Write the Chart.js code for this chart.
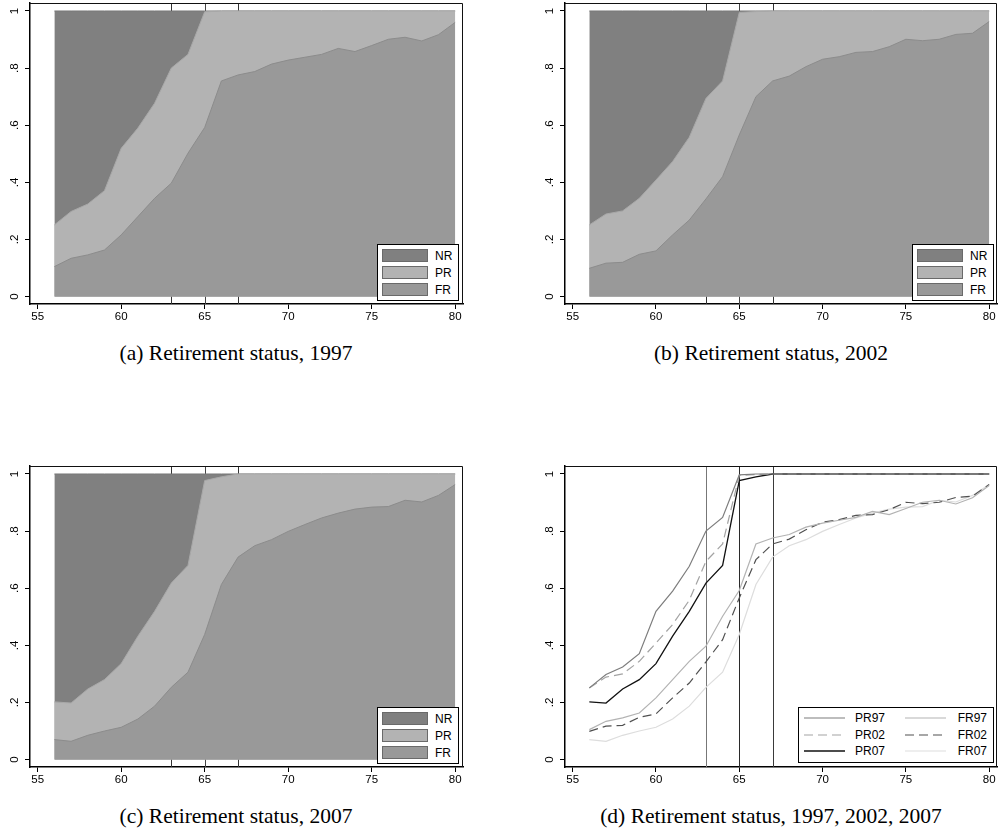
<!DOCTYPE html>
<html>
<head>
<meta charset="utf-8">
<script src="https://cdn.jsdelivr.net/npm/chart.js@4"></script>
<style>
html,body{margin:0;padding:0;background:#fff;}
body{width:998px;height:836px;position:relative;overflow:hidden;}
.panel{position:absolute;}
.panel canvas{position:absolute;left:0;top:0;}
.cap{position:absolute;font-family:"Liberation Serif","Times New Roman",serif;font-size:21.5px;line-height:24px;color:#000;white-space:nowrap;transform:translateX(-50%);}
.leg{position:absolute;box-sizing:border-box;border:1px solid #000;background:#fff;font-family:"Liberation Sans",Arial,sans-serif;font-size:12px;color:#000;}
.leg .sw{position:absolute;box-sizing:border-box;width:46px;height:13px;border:1px solid #666;}
.leg .tx{position:absolute;line-height:14px;white-space:nowrap;}
.leg svg{position:absolute;overflow:visible;}
</style>
</head>
<body>
<div class="panel" id="pa" style="left:0px;top:0px;width:470px;height:330px"><canvas id="ca"></canvas></div>
<div class="panel" id="pb" style="left:535px;top:0px;width:463px;height:330px"><canvas id="cb"></canvas></div>
<div class="panel" id="pc" style="left:0px;top:463px;width:470px;height:330px"><canvas id="cc"></canvas></div>
<div class="panel" id="pd" style="left:535px;top:463px;width:463px;height:330px"><canvas id="cd"></canvas></div>
<div class="cap" style="left:236px;top:341px">(a) Retirement status, 1997</div>
<div class="cap" style="left:771px;top:341px">(b) Retirement status, 2002</div>
<div class="cap" style="left:236px;top:804px">(c) Retirement status, 2007</div>
<div class="cap" style="left:771px;top:804px">(d) Retirement status, 1997, 2002, 2007</div>
<script>
// ---------- data ----------
const ages = [56,57,58,59,60,61,62,63,64,65,66,67,68,69,70,71,72,73,74,75,76,77,78,79,80];
const xTicks = [55,60,65,70,75,80];
const xTickLabels = ['55','60','65','70','75','80'];
const yTicks = [0,0.2,0.4,0.6,0.8,1];
const yTickLabels = ['0','.2','.4','.6','.8','1'];
const refAges = [63,65,67];
const areaLabels = ['NR','PR','FR'];

// share not fully working (top of NR area) – everyone
const nrTop = [1,1,1,1,1,1,1,1,1,1,1,1,1,1,1,1,1,1,1,1,1,1,1,1,1];
// cumulative share partially or fully retired (top of PR area)
const pr97 = [0.251,0.298,0.324,0.371,0.519,0.590,0.677,0.800,0.848,0.997,1,1,1,1,1,1,1,1,1,1,1,1,1,1,1];
const pr02 = [0.251,0.289,0.300,0.344,0.408,0.473,0.558,0.694,0.755,0.995,0.998,1,1,1,1,1,1,1,1,1,1,1,1,1,1];
const pr07 = [0.202,0.198,0.247,0.280,0.336,0.432,0.519,0.618,0.680,0.977,0.990,1,1,1,1,1,1,1,1,1,1,1,1,1,1];
// share fully retired (top of FR area)
const fr97 = [0.105,0.134,0.146,0.163,0.216,0.280,0.344,0.397,0.502,0.592,0.755,0.776,0.788,0.814,0.828,0.838,0.848,0.869,0.858,0.879,0.901,0.908,0.895,0.917,0.960];
const fr02 = [0.099,0.117,0.120,0.148,0.160,0.216,0.268,0.342,0.420,0.566,0.700,0.755,0.772,0.805,0.831,0.840,0.855,0.858,0.875,0.901,0.896,0.901,0.918,0.922,0.963];
const fr07 = [0.070,0.064,0.085,0.100,0.113,0.142,0.187,0.253,0.306,0.438,0.613,0.709,0.749,0.770,0.799,0.823,0.846,0.863,0.877,0.884,0.886,0.908,0.902,0.925,0.963];

// ---------- helpers ----------
function pts(vals){ return ages.map((a,i)=>({x:a,y:vals[i]})); }
const tickFont = {family:"'Liberation Sans', Arial, sans-serif", size:11.5};

const refLinePlugin = {
  id:'refLines',
  beforeDatasetsDraw(chart, args, opts){
    const {ctx, chartArea:{top,bottom}, scales:{x}} = chart;
    ctx.save();
    refAges.forEach((v,i)=>{
      const px = Math.round(x.getPixelForValue(v)) + 0.5;
      ctx.strokeStyle = opts.colors[i];
      ctx.lineWidth = opts.width;
      ctx.beginPath(); ctx.moveTo(px, top); ctx.lineTo(px, bottom); ctx.stroke();
    });
    ctx.restore();
  }
};
const framePlugin = {
  id:'frame',
  afterDatasetsDraw(chart){
    const {ctx, chartArea:a} = chart;
    ctx.save();
    ctx.strokeStyle = '#111';
    ctx.lineWidth = 1;
    ctx.beginPath();
    ctx.moveTo(a.left, a.top + 0.5);
    ctx.lineTo(a.right - 0.5, a.top + 0.5);
    ctx.lineTo(a.right - 0.5, a.bottom);
    ctx.stroke();
    ctx.restore();
  }
};

function makeScales(){
  return {
    x:{
      type:'linear', min:54.54, max:80.47,
      afterBuildTicks(ax){ ax.ticks = xTicks.map(v=>({value:v})); },
      afterFit(ax){ ax.height = 26; ax.paddingLeft = 0; ax.paddingRight = 0; },
      grid:{drawOnChartArea:false, drawTicks:true, tickLength:5, color:'#000', lineWidth:1},
      border:{display:true, color:'#000', width:1.5},
      ticks:{color:'#000', font:tickFont, padding:1, autoSkip:false, minRotation:0, maxRotation:0,
             callback:(v)=>xTickLabels[xTicks.indexOf(v)]}
    },
    y:{
      type:'linear', min:-0.026, max:1.028,
      afterBuildTicks(ax){ ax.ticks = yTicks.map(v=>({value:v})); },
      afterFit(ax){ ax.width = 30; ax.paddingTop = 0; ax.paddingBottom = 0; },
      grid:{drawOnChartArea:false, drawTicks:true, tickLength:5, color:'#000', lineWidth:1},
      border:{display:true, color:'#000', width:1.5},
      ticks:{color:'#000', font:tickFont, padding:5, autoSkip:false, minRotation:90, maxRotation:90, crossAlign:'center',
             callback:(v)=>yTickLabels[yTicks.indexOf(v)]}
    }
  };
}

function baseOptions(padRight, refColors){
  return {
    responsive:true, maintainAspectRatio:false, animation:false,
    layout:{padding:{top:3, right:padRight, left:0, bottom:0}},
    plugins:{legend:{display:false}, tooltip:{enabled:false}, refLines:{colors:refColors, width:1}},
    elements:{point:{radius:0}, line:{tension:0}},
    scales:makeScales()
  };
}

const areaStyle = {
  NR:{bg:'#808080', border:'#787878'},
  PR:{bg:'#b3b3b3', border:'#a8a8a8'},
  FR:{bg:'#999999', border:'#8c8c8c'}
};

function areaChart(id, prVals, frVals, padRight){
  // dataset 0 is drawn on top
  return new Chart(document.getElementById(id), {
    type:'line',
    data:{datasets:[
      {label:'FR', data:pts(frVals), fill:'origin', backgroundColor:areaStyle.FR.bg, borderColor:areaStyle.FR.border, borderWidth:1},
      {label:'PR', data:pts(prVals), fill:'origin', backgroundColor:areaStyle.PR.bg, borderColor:areaStyle.PR.border, borderWidth:1},
      {label:'NR', data:pts(nrTop), fill:'origin', backgroundColor:areaStyle.NR.bg, borderColor:areaStyle.NR.border, borderWidth:1}
    ]},
    options:baseOptions(padRight, ['#333','#444','#333']),
    plugins:[refLinePlugin, framePlugin]
  });
}

function areaLegend(panelId){
  const p = document.getElementById(panelId);
  const box = document.createElement('div');
  box.className = 'leg';
  box.style.cssText = 'left:377px;top:244px;width:82px;height:57px;';
  areaLabels.forEach((lab,i)=>{
    const sw = document.createElement('div');
    sw.className = 'sw';
    sw.style.left = '4px';
    sw.style.top = (4 + i*17) + 'px';
    sw.style.background = areaStyle[lab].bg;
    sw.style.borderColor = '#6a6a6a';
    box.appendChild(sw);
    const t = document.createElement('div');
    t.className = 'tx';
    t.style.left = '57px';
    t.style.top = (3.5 + i*17) + 'px';
    t.textContent = lab;
    box.appendChild(t);
  });
  p.appendChild(box);
}

areaChart('ca', pr97, fr97, 7);
areaChart('cb', pr02, fr02, 1);
areaChart('cc', pr07, fr07, 7);
areaLegend('pa'); areaLegend('pb'); areaLegend('pc');

// ---------- panel d ----------
const lineStyles = [
  {label:'PR97', vals:pr97, color:'#7d7d7d', width:1.2, dash:[]},
  {label:'PR02', vals:pr02, color:'#a3a3a3', width:1.2, dash:[9,5]},
  {label:'PR07', vals:pr07, color:'#111111', width:1.3, dash:[]},
  {label:'FR97', vals:fr97, color:'#b3b3b3', width:1.2, dash:[]},
  {label:'FR02', vals:fr02, color:'#505050', width:1.2, dash:[9,5]},
  {label:'FR07', vals:fr07, color:'#dddddd', width:1.2, dash:[]}
];
new Chart(document.getElementById('cd'), {
  type:'line',
  data:{datasets:lineStyles.map(s=>({label:s.label, data:pts(s.vals), fill:false, borderColor:s.color, borderWidth:s.width, borderDash:s.dash}))},
  options:baseOptions(1, ['#777','#2a2a2a','#3a3a3a']),
  plugins:[refLinePlugin, framePlugin]
});

(function(){
  const p = document.getElementById('pd');
  const box = document.createElement('div');
  box.className = 'leg';
  box.style.cssText = 'left:263px;top:244px;width:196px;height:56px;';
  // order: column 1 PR97, PR02, PR07 ; column 2 FR97, FR02, FR07
  lineStyles.forEach((s,i)=>{
    const col = Math.floor(i/3), row = i%3;
    const cy = 10 + row*16.7;
    const lx = col === 0 ? 5 : 106;
    const svg = document.createElementNS('http://www.w3.org/2000/svg','svg');
    svg.setAttribute('width','46'); svg.setAttribute('height','4');
    svg.style.left = lx + 'px'; svg.style.top = (cy - 2) + 'px';
    const ln = document.createElementNS('http://www.w3.org/2000/svg','line');
    ln.setAttribute('x1','0'); ln.setAttribute('x2','41'); ln.setAttribute('y1','2'); ln.setAttribute('y2','2');
    ln.setAttribute('stroke', s.color); ln.setAttribute('stroke-width', String(s.width));
    if (s.dash.length) ln.setAttribute('stroke-dasharray', s.dash.join(' '));
    svg.appendChild(ln);
    box.appendChild(svg);
    const t = document.createElement('div');
    t.className = 'tx';
    t.style.top = (cy - 7) + 'px';
    if (col === 0) t.style.left = '56px'; else t.style.right = '6px';
    t.textContent = s.label;
    box.appendChild(t);
  });
  p.appendChild(box);
})();
</script>
</body>
</html>
